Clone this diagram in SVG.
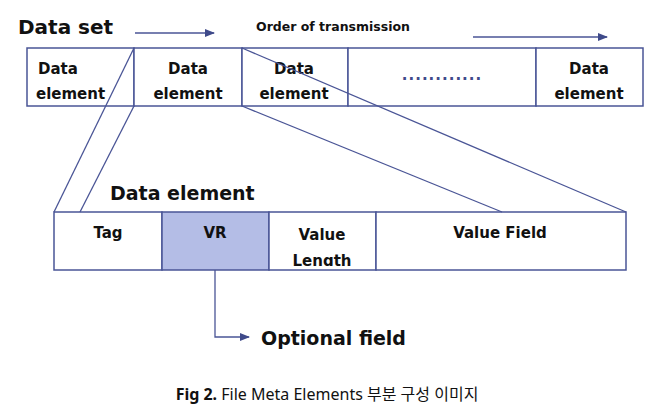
<svg xmlns="http://www.w3.org/2000/svg" width="654" height="414" viewBox="0 0 654 414">
<defs>
<marker id="ah" markerWidth="10" markerHeight="8" refX="9" refY="4" orient="auto" markerUnits="userSpaceOnUse"><path d="M0,0 L10,4 L0,8 z" fill="#3f4a8a"/></marker>
<style>
.b{fill:#fff;stroke:#4a5596;stroke-width:1.5}
.t{font-family:"DejaVu Sans",sans-serif;font-weight:bold;font-size:15px;fill:#111}
.l{stroke:#4a5596;stroke-width:1.3;fill:none}
</style>
</defs>
<rect width="654" height="414" fill="#fff"/>
<text x="18" y="34" class="t" style="font-size:20px">Data set</text>
<text x="333" y="31" class="t" text-anchor="middle" style="font-size:12.5px">Order of transmission</text>
<g id="dataset">
<rect x="27" y="48" width="107" height="58" class="b"/>
<rect x="134" y="48" width="108" height="58" class="b"/>
<rect x="242" y="48" width="106" height="58" class="b"/>
<rect x="348" y="48" width="188" height="58" class="b"/>
<rect x="536" y="48" width="107" height="58" class="b"/>
<text x="38" y="74" class="t">Data</text><text x="36" y="99" class="t">element</text>
<text x="188" y="74" class="t" text-anchor="middle">Data</text><text x="188" y="99" class="t" text-anchor="middle">element</text>
<text x="294" y="74" class="t" text-anchor="middle">Data</text><text x="294" y="99" class="t" text-anchor="middle">element</text>
<text x="442" y="80" class="t" text-anchor="middle" style="fill:#3f4a8a;letter-spacing:1px">............</text>
<text x="589" y="74" class="t" text-anchor="middle">Data</text><text x="589" y="99" class="t" text-anchor="middle">element</text>
</g>
<text x="110" y="200" class="t" style="font-size:19px">Data element</text>
<g id="element">
<rect x="54" y="212" width="108" height="58" class="b"/>
<rect x="162" y="212" width="107" height="58" class="b" style="fill:#b4bde6"/>
<rect x="269" y="212" width="107" height="58" class="b"/>
<rect x="376" y="212" width="250" height="58" class="b"/>
<text x="108" y="238" class="t" text-anchor="middle">Tag</text>
<text x="215" y="238" class="t" text-anchor="middle">VR</text>
<text x="322" y="240" class="t" text-anchor="middle">Value</text>
<text x="322" y="266" class="t" text-anchor="middle">Length</text>
<rect x="270" y="266" width="105" height="3" fill="#fff"/>
<text x="500" y="238" class="t" text-anchor="middle">Value Field</text>
</g>
<g id="connectors">
<line x1="135" y1="33" x2="214" y2="33" class="l" marker-end="url(#ah)"/>
<line x1="473" y1="37" x2="607" y2="37" class="l" marker-end="url(#ah)"/>
<line x1="134" y1="48" x2="54" y2="212" class="l"/>
<line x1="134" y1="106" x2="80" y2="212" class="l"/>
<line x1="242" y1="48" x2="626" y2="212" class="l"/>
<line x1="242" y1="106" x2="502" y2="212" class="l"/>
<polyline points="215,270 215,337 249,337" class="l" marker-end="url(#ah)"/>
</g>
<text x="261" y="345" class="t" style="font-size:19px">Optional field</text>
<text x="327" y="400" style="font-family:'Noto Sans','Noto Sans CJK KR',sans-serif;font-size:16px;fill:#111" text-anchor="middle"><tspan font-weight="bold">Fig 2.</tspan> File Meta Elements  부분  구성  이미지</text>
</svg>
